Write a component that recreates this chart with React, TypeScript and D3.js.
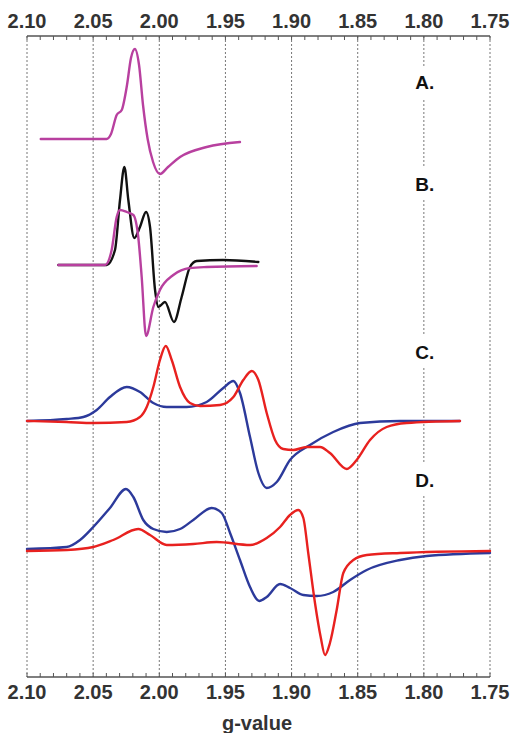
import React from 'react';
import * as d3 from 'd3';

// g-value axis
const gTicks = [2.1, 2.05, 2.0, 1.95, 1.9, 1.85, 1.8, 1.75];
const gMinor = d3.range(210, 174, -1).map(v => v / 100);

// spectra: [g, signal] pairs, signal in arbitrary units
const traceA = [
  [2.0896, 0], [2.0398, 0], [2.0365, 5], [2.0322, 24], [2.0284, 29], [2.0244, 54], [2.0214, 81],
  [2.0184, 90], [2.0153, 74], [2.0123, 34], [2.0088, 0], [2.0047, -23], [1.9995, -35], [1.9934, -28],
  [1.9843, -18], [1.9642, -8], [1.939, -3],
];
const traceBmagenta = [
  [2.0763, 0], [2.041, 0], [2.036, 15], [2.0322, 48], [2.0297, 55], [2.0246, 53], [2.0196, 50],
  [2.0159, 28], [2.0133, -12], [2.01, -71], [2.0045, -42], [1.9995, -25], [1.9894, -10],
  [1.9768, -3], [1.9642, -2], [1.9264, -1],
];
const traceBblack = [
  [2.0763, 0], [2.0398, 0], [2.0335, 15], [2.0297, 65], [2.0264, 98], [2.0234, 65], [2.0189, 27],
  [2.0146, 38], [2.01, 53], [2.007, 38], [2.0032, -25], [2.0007, -42], [1.9957, -37], [1.9889, -57],
  [1.9831, -32], [1.9768, -2], [1.9717, 4], [1.9518, 5], [1.9251, 3],
];
const traceCblue = [
  [2.1, 0], [2.07, 2], [2.0574, 4], [2.0473, 11], [2.0373, 24], [2.0246, 34], [2.0146, 29],
  [2.0045, 18], [1.9944, 14], [1.9793, 14], [1.9642, 19], [1.9516, 33], [1.944, 40], [1.939, 28],
  [1.9314, -16], [1.9251, -52], [1.9188, -67], [1.9112, -61], [1.9012, -39], [1.8861, -24],
  [1.8685, -11], [1.8483, -2], [1.818, 0], [1.7727, 0],
];
const traceCred = [
  [2.1, 0], [2.07, -1], [2.0499, -2], [2.0246, -1], [2.0146, 4], [2.0095, 14], [2.0045, 34],
  [1.9995, 61], [1.9951, 75], [1.9906, 61], [1.9843, 34], [1.9768, 18], [1.9692, 15], [1.9541, 16],
  [1.944, 24], [1.9365, 41], [1.9301, 50], [1.9251, 41], [1.9188, 8], [1.9125, -19], [1.9063, -28],
  [1.8987, -29], [1.8886, -26], [1.8785, -26], [1.871, -32], [1.8583, -48], [1.8508, -39],
  [1.8407, -19], [1.8281, -6], [1.813, -2], [1.7727, 0],
];
const traceDblue = [
  [2.1, 1], [2.07, 3], [2.0599, 10], [2.0499, 23], [2.0373, 42], [2.0252, 61], [2.0196, 53],
  [2.0121, 30], [2.0045, 21], [1.9944, 18], [1.9843, 21], [1.9743, 30], [1.9604, 42], [1.9528, 37],
  [1.9465, 17], [1.939, -10], [1.9314, -37], [1.9244, -51], [1.9188, -47], [1.9087, -34],
  [1.9012, -38], [1.8911, -45], [1.881, -46], [1.8685, -42], [1.8558, -30], [1.8432, -20],
  [1.818, -10], [1.7979, -6], [1.75, -3],
];
const traceDred = [
  [2.1, -1], [2.07, 0], [2.0499, 3], [2.0348, 10], [2.0159, 21], [2.007, 15], [1.9944, 5],
  [1.9743, 6], [1.9566, 8], [1.9314, 5], [1.9188, 12], [1.9087, 23], [1.9012, 35], [1.8949, 40],
  [1.8911, 32], [1.8874, -3], [1.8823, -53], [1.878, -87], [1.8747, -105], [1.871, -93],
  [1.8659, -60], [1.8609, -23], [1.8533, -10], [1.8432, -5], [1.818, -3], [1.75, -1],
];

// vertical offset of each panel
const offsets = { A: 538, B: 412, C: 256, D: 127 };
const labels = ['A.', 'B.', 'C.', 'D.'];
const labelPos = [595, 493, 325, 197];

const series = [
  { data: traceA, off: offsets.A, color: '#b8409f' },
  { data: traceBblack, off: offsets.B, color: '#111111' },
  { data: traceBmagenta, off: offsets.B, color: '#b8409f' },
  { data: traceCblue, off: offsets.C, color: '#2c3a9b' },
  { data: traceCred, off: offsets.C, color: '#e8211f' },
  { data: traceDblue, off: offsets.D, color: '#2c3a9b' },
  { data: traceDred, off: offsets.D, color: '#e8211f' },
];

export default function App() {
  const width = 515;
  const height = 733;
  const top = 36;
  const bottom = 677;

  const x = d3.scaleLinear().domain([2.1, 1.75]).range([27, 490]);
  const y = d3.scaleLinear().domain([0, 641]).range([bottom, top]);

  const font = 'Liberation Sans, Arial, sans-serif';

  return (
    <svg width={width} height={height} style={{ position: 'absolute', left: 0, top: 0, background: '#fff' }}>
      {/* gridlines */}
      {gTicks.map(g => (
        <line key={'g' + g} x1={x(g)} x2={x(g)} y1={top} y2={bottom}
          stroke="#777" strokeWidth={1} strokeDasharray="2,2" />
      ))}
      {/* axis lines */}
      <line x1={x(2.1)} x2={x(1.75)} y1={top} y2={top} stroke="#555" strokeWidth={1.3} />
      <line x1={x(2.1)} x2={x(1.75)} y1={bottom} y2={bottom} stroke="#555" strokeWidth={1.3} />
      {gMinor.map(g => (
        <g key={'m' + g}>
          <line x1={x(g)} x2={x(g)} y1={top} y2={top + 4} stroke="#555" strokeWidth={1} />
          <line x1={x(g)} x2={x(g)} y1={bottom} y2={bottom - 4} stroke="#555" strokeWidth={1} />
        </g>
      ))}
      {gTicks.map(g => (
        <g key={'t' + g}>
          <text x={x(g)} y={28} textAnchor="middle" fontFamily={font} fontWeight="bold"
            fontSize={20} fill="#333">{g.toFixed(2)}</text>
          <text x={x(g)} y={699} textAnchor="middle" fontFamily={font} fontWeight="bold"
            fontSize={20} fill="#333">{g.toFixed(2)}</text>
        </g>
      ))}
      <text x={257} y={730} textAnchor="middle" fontFamily={font} fontWeight="bold"
        fontSize={20} fill="#333">g-value</text>

      {/* panel labels */}
      {labels.map((l, i) => (
        <g key={l}>
          <rect x={x(1.8) - 13} y={y(labelPos[i]) - 16} width={28} height={32} fill="#fff" />
          <text x={x(1.8) + 1} y={y(labelPos[i]) + 7} textAnchor="middle" fontFamily={font}
            fontWeight="bold" fontSize={19} fill="#111">{l}</text>
        </g>
      ))}

      {/* spectra */}
      {series.map((s, i) => {
        const line = d3.line<number[]>()
          .x(d => x(d[0]))
          .y(d => y(d[1] + s.off))
          .curve(d3.curveMonotoneX);
        return (
          <path key={i} d={line(s.data) || ''} fill="none" stroke={s.color}
            strokeWidth={2.4} strokeLinejoin="round" strokeLinecap="round" />
        );
      })}
    </svg>
  );
}
